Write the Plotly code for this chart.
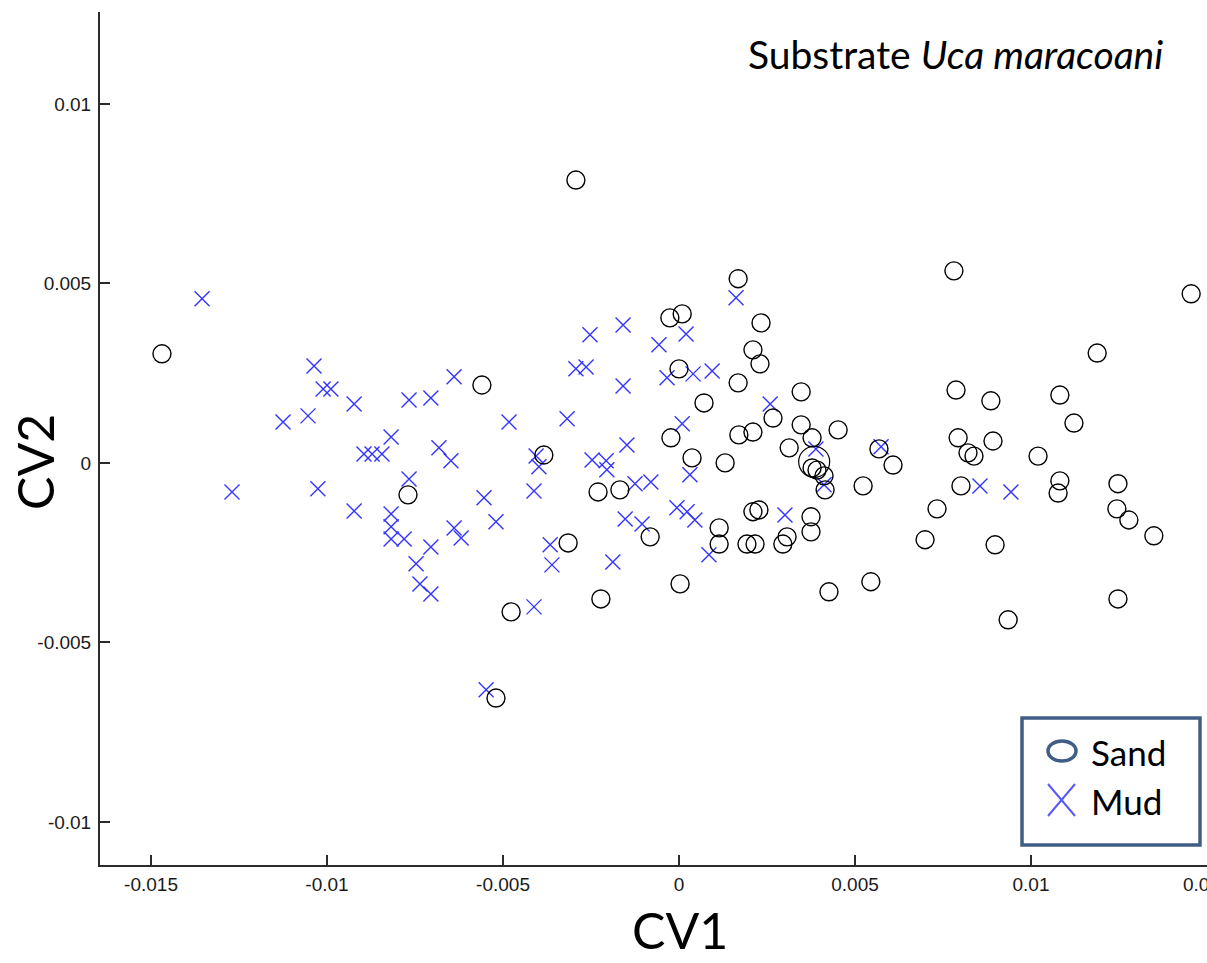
import plotly.graph_objects as go

# Canonical variate scores, Sand group
sand_cv1 = [-0.01469, -0.00293, -0.0056, -0.00384, -0.0077, -0.00315, -0.00477, -0.0052,
            -0.0023, -0.00222, -0.00168, -0.00082, -0.00026, 0.00009, 0.0, -0.00023,
            0.00037, 0.00003, 0.00071, 0.00114, 0.00114, 0.00131, 0.00168, 0.00168,
            0.0017, 0.00233, 0.0021, 0.0023, 0.0021, 0.0021, 0.00227, 0.00193,
            0.00216, 0.00267, 0.00295, 0.00307, 0.00313, 0.00347, 0.00347, 0.00378,
            0.00378, 0.00392, 0.00412, 0.00415, 0.00375, 0.00375, 0.00452, 0.00426,
            0.00523, 0.00545, 0.00568, 0.00608, 0.00699, 0.00733, 0.00781, 0.00787,
            0.00793, 0.00801, 0.00821, 0.00838, 0.00886, 0.00892, 0.00898, 0.00935,
            0.0102, 0.01082, 0.01082, 0.01077, 0.01122, 0.01188, 0.01247, 0.01244,
            0.01278, 0.01247, 0.01349, 0.01455]
sand_cv2 = [0.00304, 0.00788, 0.00217, 0.00022, -0.00089, -0.00223, -0.00415, -0.00655,
            -0.00081, -0.00379, -0.00075, -0.00206, 0.00404, 0.00415, 0.00262, 0.0007,
            0.00014, -0.00337, 0.00167, -0.00181, -0.00226, 0.0, 0.00223, 0.00513,
            0.00078, 0.0039, 0.00315, 0.00276, 0.00086, -0.00136, -0.00131, -0.00226,
            -0.00226, 0.00125, -0.00226, -0.00206, 0.00042, 0.00198, 0.00106, 0.0007,
            -0.00014, -0.0002, -0.00036, -0.00075, -0.0015, -0.00192, 0.00092, -0.00359,
            -0.00064, -0.00331, 0.00039, -0.00006, -0.00214, -0.00128, 0.00535, 0.00203,
            0.0007, -0.00064, 0.00028, 0.00019, 0.00173, 0.00061, -0.00228, -0.00437,
            0.00019, 0.00189, -0.0005, -0.00084, 0.00111, 0.00306, -0.00058, -0.00128,
            -0.00159, -0.00379, -0.00203, 0.00471]

# Sand group centroid
sand_mean_cv1 = [0.00384]
sand_mean_cv2 = [0.00003]

# Canonical variate scores, Mud group
mud_cv1 = [-0.01355, -0.0127, -0.01125, -0.01054, -0.01037, -0.01026, -0.01011, -0.00989,
           -0.00923, -0.00923, -0.00895, -0.00872, -0.00844, -0.00818, -0.00818, -0.00818,
           -0.00818, -0.00781, -0.00767, -0.00767, -0.00747, -0.00736, -0.00705, -0.00705,
           -0.00705, -0.00682, -0.00648, -0.00639, -0.00639, -0.00619, -0.00554, -0.00548,
           -0.0052, -0.00483, -0.00412, -0.00412, -0.00406, -0.00398, -0.00366, -0.00361,
           -0.00318, -0.00293, -0.00264, -0.00253, -0.00247, -0.00207, -0.00205, -0.00188,
           -0.00159, -0.00159, -0.00153, -0.00148, -0.00125, -0.00105, -0.0008, -0.00057,
           -0.00034, -0.00006, 0.00009, 0.0002, 0.00023, 0.00031, 0.0004, 0.00045,
           0.00085, 0.00094, 0.00162, 0.00259, 0.00301, 0.00389, 0.00412, 0.00574,
           0.00855, 0.00943]
mud_cv2 = [0.00457, -0.00081, 0.00114, 0.00131, 0.0027, -0.00072, 0.00206, 0.00206,
           0.00164, -0.00134, 0.00025, 0.00025, 0.00025, 0.00072, -0.00142, -0.00178,
           -0.00212, -0.00212, 0.00175, -0.00045, -0.00281, -0.00337, -0.00365, 0.00181,
           -0.00234, 0.00042, 0.00006, 0.0024, -0.00181, -0.00209, -0.00097, -0.00632,
           -0.00164, 0.00114, -0.00078, -0.00401, 0.00019, -0.00011, -0.00228, -0.00284,
           0.00123, 0.00262, 0.00267, 0.00357, 0.00008, 0.00006, -0.00019, -0.00276,
           0.00384, 0.00214, -0.00156, 0.0005, -0.00058, -0.0017, -0.00053, 0.00329,
           0.00237, -0.00125, 0.00109, 0.00359, -0.00136, -0.00033, 0.00248, -0.00159,
           -0.00256, 0.00256, 0.0046, 0.00164, -0.00145, 0.00039, -0.00061, 0.00045,
           -0.00064, -0.00081]

x_ticks = [-0.015, -0.01, -0.005, 0, 0.005, 0.01]
x_tick_text = ["-0.015", "-0.01", "-0.005", "0", "0.005", "0.01"]
x_edge_tick = 0.015
x_edge_tick_text = "0.015"
y_ticks = [-0.01, -0.005, 0, 0.005, 0.01]
y_tick_text = ["-0.01", "-0.005", "0", "0.005", "0.01"]

X_RANGE = [-0.01645, 0.01500]
Y_RANGE = [-0.0112, 0.01256]

fig = go.Figure()

fig.add_trace(go.Scatter(
    x=mud_cv1, y=mud_cv2, mode="markers", name="Mud", showlegend=False,
    marker=dict(symbol="x-thin-open", size=15, color="#3434ff",
                line=dict(color="#3434ff", width=1.4)),
))
fig.add_trace(go.Scatter(
    x=sand_cv1, y=sand_cv2, mode="markers", name="Sand", showlegend=False,
    marker=dict(symbol="circle-open", size=18, color="black",
                line=dict(color="black", width=1.4)),
))
fig.add_trace(go.Scatter(
    x=sand_mean_cv1, y=sand_mean_cv2, mode="markers", showlegend=False,
    marker=dict(symbol="circle-open", size=31, color="black",
                line=dict(color="black", width=1.2)),
))

tick_font = dict(family="Arial, Liberation Sans, sans-serif", size=19, color="#1a1a1a")
axis_common = dict(
    showgrid=False, zeroline=False, showline=True, linecolor="#2b2b2b", linewidth=2,
    ticks="inside", ticklen=10, tickwidth=1.5, tickcolor="#2b2b2b", tickfont=tick_font,
)

fig.update_layout(
    width=1207, height=963,
    margin=dict(l=100, r=0, t=12, b=98),
    plot_bgcolor="white", paper_bgcolor="white",
    xaxis=dict(range=X_RANGE, tickvals=x_ticks, ticktext=x_tick_text,
               ticklabelstandoff=1, **axis_common),
    yaxis=dict(range=Y_RANGE, tickvals=y_ticks, ticktext=y_tick_text,
               ticklabelstandoff=3, **axis_common),
)


def px_x(p):
    return (p - 100) / 1107


def px_y(p):
    return (865 - p) / 853


# Last x tick sits on the right edge of the axis; its label runs off the page
edge_frac = (x_edge_tick - X_RANGE[0]) / (X_RANGE[1] - X_RANGE[0])
fig.add_annotation(text=x_edge_tick_text, xref="paper", yref="paper", x=edge_frac,
                   y=px_y(884), xanchor="center", yanchor="middle", showarrow=False,
                   font=tick_font)

title_font = "Lato, Noto Sans, sans-serif"

# Axis titles
fig.add_annotation(text="CV1", xref="paper", yref="paper", x=px_x(680), y=px_y(930),
                   xanchor="center", yanchor="middle", showarrow=False,
                   font=dict(family=title_font, size=50, color="black"))
fig.add_annotation(text="CV2", xref="paper", yref="paper", x=px_x(35), y=px_y(462),
                   xanchor="center", yanchor="middle", textangle=-90, showarrow=False,
                   font=dict(family=title_font, size=50, color="black"))

# Panel label
fig.add_annotation(text="Substrate <i>Uca maracoani</i>", xref="paper", yref="paper",
                   x=px_x(1165), y=px_y(54), xanchor="right", yanchor="middle",
                   showarrow=False, font=dict(family=title_font, size=39, color="black"))

# Legend box
legend_edge = "#3f5d85"
fig.add_shape(type="rect", xref="paper", yref="paper",
              x0=px_x(1022), x1=px_x(1200), y0=px_y(845), y1=px_y(718),
              line=dict(color=legend_edge, width=3.5), fillcolor="white", layer="above")
fig.add_shape(type="circle", xref="paper", yref="paper",
              x0=px_x(1048), x1=px_x(1076), y0=px_y(761), y1=px_y(741),
              line=dict(color=legend_edge, width=3.5), layer="above")
fig.add_shape(type="line", xref="paper", yref="paper",
              x0=px_x(1048), x1=px_x(1075), y0=px_y(784), y1=px_y(816),
              line=dict(color="#5858ff", width=2), layer="above")
fig.add_shape(type="line", xref="paper", yref="paper",
              x0=px_x(1048), x1=px_x(1075), y0=px_y(816), y1=px_y(784),
              line=dict(color="#5858ff", width=2), layer="above")
fig.add_annotation(text="Sand", xref="paper", yref="paper", x=px_x(1089), y=px_y(752),
                   xanchor="left", yanchor="middle", showarrow=False,
                   font=dict(family=title_font, size=35, color="black"))
fig.add_annotation(text="Mud", xref="paper", yref="paper", x=px_x(1089), y=px_y(801),
                   xanchor="left", yanchor="middle", showarrow=False,
                   font=dict(family=title_font, size=35, color="black"))

fig.write_html("out.html")
